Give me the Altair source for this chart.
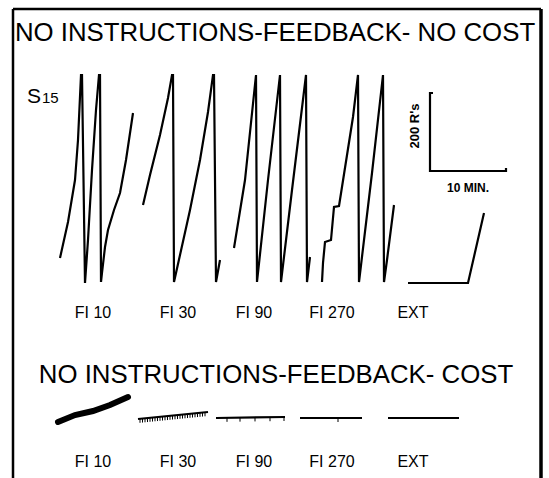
import altair as alt
import pandas as pd

W, H = 549, 478

# ---- cumulative records, "no cost" panel (page units, y grows downward) ----
fi10_x = [60, 68, 75, 78, 81, 82, 85, 88, 92, 96, 99, 100, 101, 102, 105, 108, 114, 120, 126, 133]
fi10_y = [258, 222, 180, 140, 75, 75, 283, 240, 170, 110, 75, 75, 282, 273, 247, 230, 210, 193, 160, 113]
fi30_x = [143, 150, 160, 168, 172, 173, 174, 180, 190, 200, 208, 213, 214, 216, 220]
fi30_y = [205, 175, 135, 98, 75, 75, 282, 255, 210, 160, 112, 75, 75, 282, 260]
fi90_x = [234, 245, 256, 257, 268, 280, 281, 292, 306, 307, 310]
fi90_y = [248, 180, 75, 282, 180, 75, 282, 190, 75, 282, 257]
fi270_x = [322, 323, 325, 331, 334, 339, 353, 358, 359, 372, 383, 384, 387, 394]
fi270_y = [282, 263, 242, 240, 207, 206, 117, 75, 282, 173, 75, 282, 260, 205]
ext_x = [408, 468, 484]
ext_y = [283, 283, 213]
scale_x = [433, 430, 430, 506, 506]
scale_y = [93, 93, 171, 171, 168]

# ---- "cost" panel records ----
c10_x = [58, 75, 93, 110, 128]
c10_y = [422, 415, 411, 405, 397]
c30_x = [138, 208]
c30_y = [419, 412]
c90_x = [216, 285]
c90_y = [418, 417]
c270_x = [300, 362]
c270_y = [418, 418]
cext_x = [388, 459]
cext_y = [418, 418]
# reinforcement pips hanging under the cost records
pip30_x = [140, 142.5, 145, 147.5, 150, 152.5, 155, 157.5, 160, 162.5, 165, 167.5, 170,
           172.5, 175, 177.5, 180, 182.5, 185, 187.5, 190, 192.5, 195, 197.5, 200, 202.5, 205]
pip90_x = [227, 240, 255, 270, 284]
pip270_x = [338]

# ---- text ----
title_top = "NO INSTRUCTIONS-FEEDBACK- NO COST"
title_bottom = "NO INSTRUCTIONS-FEEDBACK- COST"
schedules = ["FI 10", "FI 30", "FI 90", "FI 270", "EXT"]
sched_x = [93, 178, 254, 332, 413]

xs = alt.Scale(domain=[0, W], nice=False, zero=False)
ys = alt.Scale(domain=[0, H], nice=False, zero=False, reverse=True)


def X(f):
    return alt.X(f, type="quantitative", scale=xs, axis=None)


def Y(f):
    return alt.Y(f, type="quantitative", scale=ys, axis=None)


def trace_df(specs):
    rows = []
    for name, xv, yv in specs:
        for i, (a, b) in enumerate(zip(xv, yv)):
            rows.append({"trace": name, "i": i, "x": a, "y": b})
    return pd.DataFrame(rows)


records = trace_df([
    ("FI10", fi10_x, fi10_y), ("FI30", fi30_x, fi30_y), ("FI90", fi90_x, fi90_y),
    ("FI270", fi270_x, fi270_y), ("EXT", ext_x, ext_y),
    ("c30", c30_x, c30_y), ("c90", c90_x, c90_y), ("c270", c270_x, c270_y),
    ("cEXT", cext_x, cext_y),
])
scalebar = trace_df([("bar", scale_x, scale_y)])
thick = trace_df([("c10", c10_x, c10_y)])


def interp(xv, yv, x):
    return yv[0] + (yv[-1] - yv[0]) * (x - xv[0]) / (xv[-1] - xv[0])


pips = []
for xv, yv, px in [(c30_x, c30_y, pip30_x), (c90_x, c90_y, pip90_x), (c270_x, c270_y, pip270_x)]:
    for p in px:
        yy = interp(xv, yv, p)
        pips.append({"x": p, "y": yy, "y2": yy + 4})
pips = pd.DataFrame(pips)

line_layer = alt.Chart(records).mark_line(color="#000", strokeWidth=2.2).encode(
    x=X("x"), y=Y("y"), detail="trace:N", order=alt.Order("i:Q"))
bar_layer = alt.Chart(scalebar).mark_line(color="#000", strokeWidth=2.2).encode(
    x=X("x"), y=Y("y"), order=alt.Order("i:Q"))
thick_layer = alt.Chart(thick).mark_line(color="#000", strokeWidth=6, strokeCap="round").encode(
    x=X("x"), y=Y("y"), order=alt.Order("i:Q"))
pip_layer = alt.Chart(pips).mark_rule(color="#000", strokeWidth=1).encode(
    x=X("x"), y=Y("y"), y2="y2")

frame = pd.DataFrame([
    {"x": 13, "x2": 13, "y": 9, "y2": 478, "w": 2.5},
    {"x": 13, "x2": 541, "y": 9, "y2": 9, "w": 2.5},
    {"x": 541, "x2": 541, "y": 9, "y2": 478, "w": 3.5},
])
frame_layer = alt.Chart(frame).mark_rule(color="#000").encode(
    x=X("x"), x2="x2", y=Y("y"), y2="y2",
    strokeWidth=alt.StrokeWidth("w:Q", scale=None))

FONT = "Liberation Sans"
titles = pd.DataFrame([{"x": 275, "y": 41, "t": title_top}, {"x": 276, "y": 383, "t": title_bottom}])
title_layer = alt.Chart(titles).mark_text(font=FONT, fontSize=25.8, align="center",
                                          baseline="alphabetic", color="#000").encode(
    x=X("x"), y=Y("y"), text="t:N")

labs = pd.DataFrame([{"x": a, "y": 318, "t": s} for a, s in zip(sched_x, schedules)] +
                    [{"x": a, "y": 467, "t": s} for a, s in zip(sched_x, schedules)])
lab_layer = alt.Chart(labs).mark_text(font=FONT, fontSize=16, align="center",
                                      baseline="alphabetic", color="#000").encode(
    x=X("x"), y=Y("y"), text="t:N")

s_layer = alt.Chart(pd.DataFrame([{"x": 27, "y": 103, "t": "S"}])).mark_text(
    font=FONT, fontSize=21, align="left", baseline="alphabetic", color="#000").encode(
    x=X("x"), y=Y("y"), text="t:N")
n_layer = alt.Chart(pd.DataFrame([{"x": 42, "y": 103, "t": "15"}])).mark_text(
    font=FONT, fontSize=15, align="left", baseline="alphabetic", color="#000").encode(
    x=X("x"), y=Y("y"), text="t:N")

rs_layer = alt.Chart(pd.DataFrame([{"x": 415, "y": 126, "t": "200  R's"}])).mark_text(
    font=FONT, fontSize=13, fontWeight="bold", angle=270, align="center",
    baseline="middle", color="#000").encode(x=X("x"), y=Y("y"), text="t:N")
min_layer = alt.Chart(pd.DataFrame([{"x": 468, "y": 192, "t": "10  MIN."}])).mark_text(
    font=FONT, fontSize=12, fontWeight="bold", align="center",
    baseline="alphabetic", color="#000").encode(x=X("x"), y=Y("y"), text="t:N")

chart = alt.layer(
    frame_layer, line_layer, bar_layer, thick_layer, pip_layer,
    title_layer, lab_layer, s_layer, n_layer, rs_layer, min_layer,
).properties(
    width=W, height=H, padding=0, autosize=alt.AutoSizeParams(type="none"),
    background="white",
).configure_view(stroke=None)

chart.save("out.html", embed_options={"renderer": "svg", "actions": False})
